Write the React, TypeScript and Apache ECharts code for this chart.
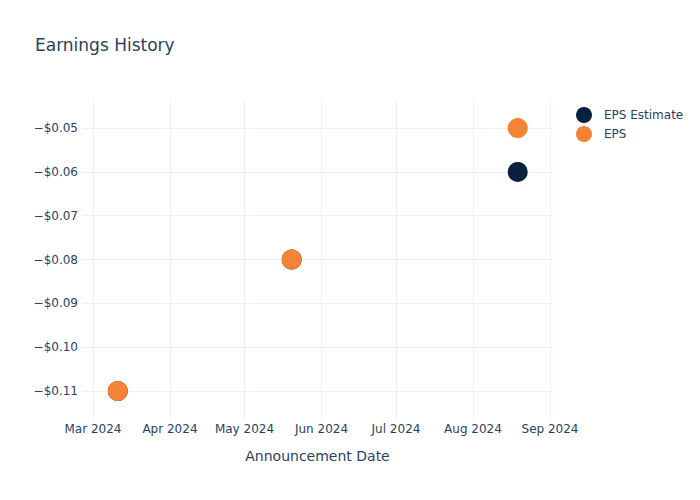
import React, { useEffect, useRef } from "react";
import * as echarts from "echarts";

const announcementDates: [number, number, number][] = [
  [2024, 3, 11],
  [2024, 5, 20],
  [2024, 8, 19],
];
const epsEstimate = [-0.11, -0.08, -0.06];
const epsActual = [-0.11, -0.08, -0.05];
const seriesNames = ["EPS Estimate", "EPS"];

const FONT = "DejaVu Sans";
const TEXT = "#2a3f5f";
const GRID = "#ebf0f8";

const toTs = (d: [number, number, number]) => new Date(d[0], d[1] - 1, d[2]).getTime();
const MONTHS = ["Jan", "Feb", "Mar", "Apr", "May", "Jun", "Jul", "Aug", "Sep", "Oct", "Nov", "Dec"];

export default function App() {
  const ref = useRef<HTMLDivElement>(null);
  useEffect(() => {
    if (!ref.current) return;
    document.body.style.margin = "0";
    const chart = echarts.init(ref.current, undefined, { renderer: "svg" });
    const xMin = new Date(2024, 1, 25, 14).getTime();
    const xMax = new Date(2024, 8, 2, 5).getTime();
    chart.setOption({
      animation: false,
      backgroundColor: "#fff",
      title: {
        text: "Earnings History",
        left: 30,
        top: 31,
        textStyle: { fontFamily: FONT, fontSize: 17, fontWeight: "normal", color: TEXT },
      },
      legend: {
        orient: "vertical",
        left: 571,
        top: 102,
        itemWidth: 30,
        itemHeight: 16,
        itemGap: 3,
        icon: "circle",
        data: seriesNames,
        textStyle: { fontFamily: FONT, fontSize: 12, color: TEXT },
      },
      grid: { left: 82, right: 147, top: 100, bottom: 80 },
      xAxis: {
        type: "time",
        min: xMin,
        max: xMax,
        name: "Announcement Date",
        nameLocation: "middle",
        nameGap: 29,
        nameTextStyle: { fontFamily: FONT, fontSize: 14, color: TEXT },
        axisLine: { show: false },
        axisTick: { show: false },
        axisLabel: {
          showMinLabel: false,
          showMaxLabel: false,
          margin: 3,
          fontFamily: FONT,
          fontSize: 12,
          color: TEXT,
          formatter: (v: number) => {
            const d = new Date(v);
            return MONTHS[d.getMonth()] + " " + d.getFullYear();
          },
        },
        splitLine: { show: true, showMinLine: false, showMaxLine: false, lineStyle: { color: GRID, width: 1 } },
      },
      yAxis: {
        type: "value",
        min: -0.1166,
        max: -0.0436,
        axisLine: { show: false },
        axisTick: { show: false },
        axisLabel: {
          showMinLabel: false,
          showMaxLabel: false,
          margin: 4,
          fontFamily: FONT,
          fontSize: 12,
          color: TEXT,
          formatter: (v: number) => (v < 0 ? "\u2212" : "") + "$" + Math.abs(v).toFixed(2),
        },
        splitLine: { show: true, showMinLine: false, showMaxLine: false, lineStyle: { color: GRID, width: 1 } },
      },
      series: [
        {
          name: seriesNames[0],
          type: "scatter",
          symbolSize: 20,
          itemStyle: { color: "#0b1f3f", opacity: 1 },
          data: announcementDates.map((d, i) => [toTs(d), epsEstimate[i]]),
        },
        {
          name: seriesNames[1],
          type: "scatter",
          symbolSize: 20,
          itemStyle: { color: "#f58235", opacity: 1 },
          data: announcementDates.map((d, i) => [toTs(d), epsActual[i]]),
        },
      ],
    });
    return () => chart.dispose();
  }, []);
  return <div ref={ref} style={{ width: 700, height: 500 }} />;
}
